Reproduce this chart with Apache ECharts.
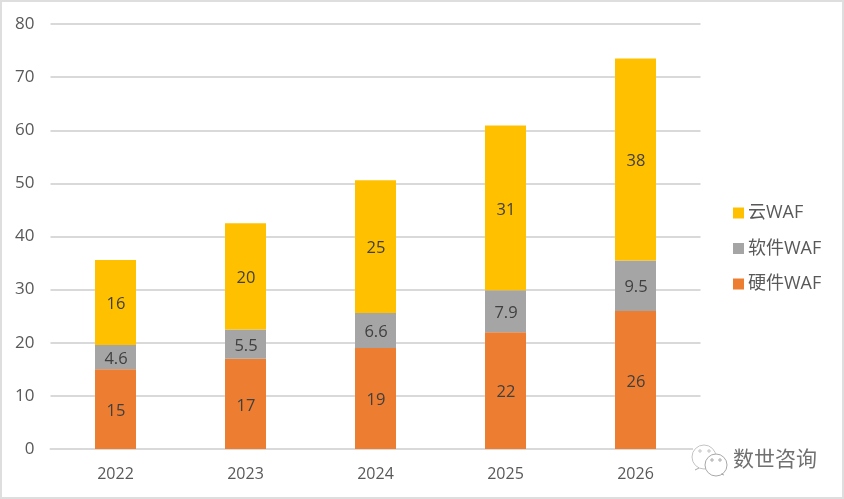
<!DOCTYPE html>
<html><head><meta charset="utf-8">
<style>html,body{margin:0;padding:0;background:#fff}#c{width:844px;height:499px}</style>
<script src="https://cdn.jsdelivr.net/npm/echarts@6/dist/echarts.min.js"></script>
</head><body><div id="c"></div>
<script>
const years = ['2022','2023','2024','2025','2026'];
const hardware = [15,17,19,22,26];
const software = [4.6,5.5,6.6,7.9,9.5];
const cloud = [16,20,25,31,38];
const names = ['硬件WAF','软件WAF','云WAF'];
const colors = ['#ED7D31','#A5A5A5','#FFC000'];
const legendOrder = ['云WAF','软件WAF','硬件WAF'];
const watermark = '数世咨询';
const font = '"Open Sans","Noto Sans CJK SC",sans-serif';
const chart = echarts.init(document.getElementById('c'),null,{renderer:'canvas'});
const mk = (name,data,color)=>({name,type:'bar',stack:'t',data,barWidth:41,
  itemStyle:{color},
  label:{show:true,position:'inside',offset:[0.5,2],color:'#404040',fontSize:16.5,fontFamily:font}});
const eye = (cx,cy,stroke)=>({type:'circle',silent:true,z:104,shape:{cx,cy,r:1.2},style:{fill:'#fff',stroke,lineWidth:0.8}});
chart.setOption({
  animation:false,
  backgroundColor:'#fff',
  grid:{left:50.5,right:143.5,top:24,bottom:50},
  legend:{orient:'vertical',left:733,top:203,padding:0,itemWidth:11,itemHeight:11,itemGap:15.5,
    data:legendOrder.map(n=>({name:n,icon:'rect'})),
    textStyle:{color:'#595959',fontSize:18,fontFamily:font,padding:[0,0,0,-1],lineHeight:20}},
  xAxis:{type:'category',data:years,
    axisLine:{lineStyle:{color:'#D9D9D9',width:2}},axisTick:{show:false},
    axisLabel:{color:'#595959',fontSize:16,fontFamily:font,margin:17}},
  yAxis:{type:'value',min:0,max:80,interval:10,axisLine:{show:false},axisTick:{show:false},
    splitLine:{lineStyle:{color:'#D9D9D9',width:2}},
    axisLabel:{color:'#595959',fontSize:17,fontFamily:font,margin:16}},
  series:[mk(names[0],hardware,colors[0]),mk(names[1],software,colors[1]),mk(names[2],cloud,colors[2])],
  graphic:[
    {type:'rect',silent:true,z:100,shape:{x:1,y:1,width:842,height:497},style:{fill:'none',stroke:'#DEDEDE',lineWidth:2}},
    {type:'rect',silent:true,z:90,shape:{x:693,y:444,width:10,height:10},style:{fill:'#fff'}},
    {type:'circle',silent:true,z:101,shape:{cx:704,cy:457,r:12},style:{fill:'#fff',stroke:'#C4C4C4',lineWidth:1}},
    {type:'line',silent:true,z:101,shape:{x1:699,y1:468,x2:695,y2:470},style:{stroke:'#A8A8A8',lineWidth:1}},
    {type:'circle',silent:true,z:102,shape:{cx:716,cy:465,r:11},style:{fill:'#fff',stroke:'#A8A8A8',lineWidth:1}},
    {type:'line',silent:true,z:102,shape:{x1:721,y1:474,x2:724,y2:475},style:{stroke:'#A8A8A8',lineWidth:1}},
    eye(700,451,'#B0B0B0'), eye(709,451,'#B0B0B0'), eye(712,460,'#909090'), eye(720,460,'#909090'),
    {type:'text',silent:true,z:103,left:733,top:448,style:{text:watermark,fill:'#707070',font:'21px "Noto Sans CJK SC",sans-serif'}}
  ]
});
</script></body></html>
